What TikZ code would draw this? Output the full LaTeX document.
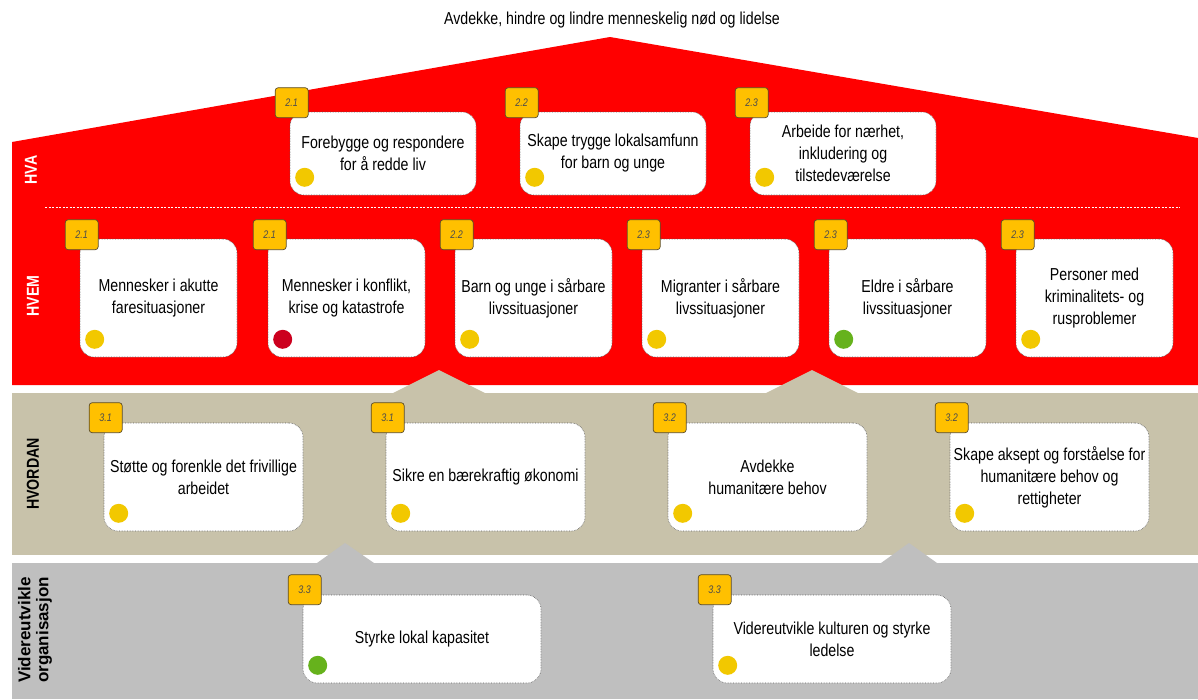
\documentclass[tikz,border=0pt]{standalone}
\usepackage{fontspec}
\setmainfont{Liberation Sans}
\newfontfamily\narrowfont{Liberation Sans}[FakeStretch=0.82]
\definecolor{hred}{RGB}{255,0,0}
\definecolor{htan}{RGB}{200,194,170}
\definecolor{hgray}{RGB}{191,191,191}
\definecolor{badgefill}{RGB}{255,192,0}
\definecolor{badgeline}{RGB}{90,75,40}
\definecolor{dotyellow}{RGB}{242,200,0}
\definecolor{dotred}{RGB}{204,0,30}
\definecolor{dotgreen}{RGB}{102,178,28}
\tikzset{
  card/.style={draw=black!65, densely dotted, line width=0.6pt, fill=white,
    rounded corners=14pt, align=center, inner sep=0pt,
    font=\narrowfont\fontsize{17.3}{22}\selectfont},
  badge/.style={draw=badgeline, solid, fill=badgefill, rounded corners=3pt,
    minimum width=33pt, minimum height=30pt, inner sep=0pt, line width=0.7pt,
    font=\narrowfont\itshape\fontsize{11}{13}\selectfont, text=black!70},
  dot/.style={circle, minimum size=19pt, inner sep=0pt},
  sidelabel/.style={rotate=90, align=center,
    font=\narrowfont\bfseries\fontsize{17.3}{20}\selectfont},
}
\newcommand\bdy{-5}
\newcommand\mybox[8]{%
  \node[card, minimum width=#4pt, minimum height=#5pt] (#1) at (#2,#3) {#6};
  \node[badge] (#1b) at ([shift={(2,\bdy)}]#1.north west) {#7};
  \node[dot, fill=#8] (#1d) at ([shift={(15,-18)}]#1.south west) {};
}
\begin{document}
\begin{tikzpicture}[x=1pt, y=-1pt]
\useasboundingbox (0,0) rectangle (1198,699);
% backgrounds
\fill[hred] (12,142) -- (610,37) -- (1198,138) -- (1198,385) -- (12,385) -- cycle;
\fill[htan] (12,393) rectangle (1198,555);
\fill[htan] (393,393) -- (439,370) -- (485,393) -- cycle;
\fill[htan] (766,393) -- (812,370) -- (858,393) -- cycle;
\fill[hgray] (12,563) rectangle (1198,699);
\fill[hgray] (317,563) -- (345,543) -- (374,563) -- cycle;
\fill[hgray] (881,563) -- (909,543) -- (937,563) -- cycle;
\draw[white, line width=0.6pt, dash pattern=on 2pt off 1.5pt] (45,207) -- (1180,207);

% title
\node[font=\narrowfont\fontsize{17.3}{22}\selectfont] (title) at (612,20) {Avdekke, hindre og lindre menneskelig nød og lidelse};

% side labels
\node[sidelabel, text=white] (lhva) at (31,170) {HVA};
\node[sidelabel, text=white] (lhvem) at (33,296) {HVEM};
\node[sidelabel] (lhvordan) at (33,474) {HVORDAN};
\node[sidelabel, font=\bfseries\fontsize{17}{18}\selectfont] (lorg) at (35,630) {Videreutvikle\\organisasjon};

% HVA row
\renewcommand\bdy{-9}
\mybox{a1}{383}{153.5}{186}{83}{Forebygge og respondere\\for å redde liv}{2.1}{dotyellow}
\mybox{a2}{613}{153.5}{186}{83}{Skape trygge lokalsamfunn\\for barn og unge}{2.2}{dotyellow}
\mybox{a3}{843}{153.5}{186}{83}{Arbeide for nærhet,\\inkludering og\\tilstedeværelse}{2.3}{dotyellow}

% HVEM row
\renewcommand\bdy{-4}
\mybox{b1}{158.5}{298}{157}{118}{Mennesker i akutte\\faresituasjoner}{2.1}{dotyellow}
\mybox{b2}{346.5}{298}{157}{118}{Mennesker i konflikt,\\krise og katastrofe}{2.1}{dotred}
\mybox{b3}{533.5}{298}{157}{118}{Barn og unge i sårbare\\livssituasjoner}{2.2}{dotyellow}
\mybox{b4}{720.5}{298}{157}{118}{Migranter i sårbare\\livssituasjoner}{2.3}{dotyellow}
\mybox{b5}{907.5}{298}{157}{118}{Eldre i sårbare\\livssituasjoner}{2.3}{dotgreen}
\mybox{b6}{1094.5}{298}{157}{118}{Personer med\\kriminalitets- og\\rusproblemer}{2.3}{dotyellow}

% HVORDAN row
\renewcommand\bdy{-5}
\mybox{c1}{203.5}{477}{199}{108}{Støtte og forenkle det frivillige\\arbeidet}{3.1}{dotyellow}
\mybox{c2}{485.5}{477}{199}{108}{Sikre en bærekraftig økonomi}{3.1}{dotyellow}
\mybox{c3}{767.5}{477}{199}{108}{Avdekke\\humanitære behov}{3.2}{dotyellow}
\mybox{c4}{1049.5}{477}{199}{108}{Skape aksept og forståelse for\\humanitære behov og\\rettigheter}{3.2}{dotyellow}

% organisasjon row
\mybox{d1}{422}{639}{238}{88}{Styrke lokal kapasitet}{3.3}{dotgreen}
\mybox{d2}{832}{639}{238}{88}{Videreutvikle kulturen og styrke\\ledelse}{3.3}{dotyellow}
\end{tikzpicture}
\end{document}
